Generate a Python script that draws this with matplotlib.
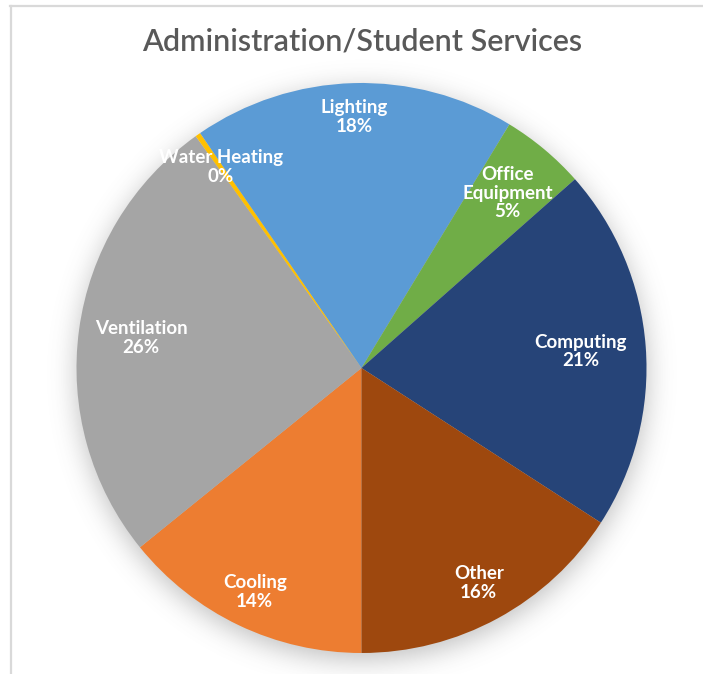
import math
import numpy as np
import matplotlib
matplotlib.use('Agg')
import matplotlib.pyplot as plt
from matplotlib.lines import Line2D

# Energy end-use breakdown, clockwise from the bottom of the pie
categories = ['Cooling', 'Ventilation', 'Water Heating', 'Lighting',
              'Office Equipment', 'Computing', 'Other']
shares = [14.2, 26.0, 0.3, 18.3, 4.8, 20.7, 15.9]
colors = ['#ED7D31', '#A5A5A5', '#FFC000', '#5B9BD5',
          '#70AD47', '#264478', '#9E480E']
label_text = ['Cooling', 'Ventilation', 'Water Heating', 'Lighting',
              'Office\nEquipment', 'Computing', 'Other']
# radial position of each label (fraction of radius)
label_r = [0.87, 0.78, 0.86, 0.88, 0.80, 0.77, 0.86]

W, H, DPI = 703, 674, 100
CX, CY, R = 361.5, 368.0, 285.0

plt.rcParams['font.family'] = ['Lato', 'DejaVu Sans']
fig = plt.figure(figsize=(W / DPI, H / DPI), dpi=DPI)
fig.patch.set_facecolor('white')

# soft drop shadow under the pie
bg = fig.add_axes([0, 0, 1, 1])
bg.set_axis_off()
yy, xx = np.mgrid[0:H, 0:W]
d = np.hypot(xx - CX, yy - (CY + 6)) - R
sigma = 13.0
erfc = np.vectorize(math.erfc)
alpha = 0.38 * 0.5 * erfc(d / (math.sqrt(2) * sigma))
shadow = np.zeros((H, W, 4))
shadow[..., :3] = 0.35
shadow[..., 3] = alpha
bg.imshow(shadow, extent=(0, W, H, 0), interpolation='bilinear')
bg.set_xlim(0, W)
bg.set_ylim(H, 0)

# chart frame (top and left edges visible)
fig.add_artist(Line2D([10 / W, 1], [1 - 5.5 / H, 1 - 5.5 / H],
                      color='#D9D9D9', lw=1.6, transform=fig.transFigure))
fig.add_artist(Line2D([10.5 / W, 10.5 / W], [0, 1 - 5.5 / H],
                      color='#D9D9D9', lw=1.6, transform=fig.transFigure))

ax = fig.add_axes([(CX - R) / W, (H - CY - R) / H, 2 * R / W, 2 * R / H])
ax.set_axis_off()
wedges, _ = ax.pie(shares, colors=colors, startangle=270, counterclock=False,
                   radius=1.0, wedgeprops=dict(linewidth=0))
ax.set_xlim(-1, 1)
ax.set_ylim(-1, 1)
ax.set_aspect('equal')

total = sum(shares)
for w, txt, val, r in zip(wedges, label_text, shares, label_r):
    mid = math.radians((w.theta1 + w.theta2) / 2)
    x, y = r * math.cos(mid), r * math.sin(mid)
    ax.text(x, y, f"{txt}\n{val / total * 100:.0f}%", ha='center', va='center',
            color='white', fontsize=13.5, fontweight='bold', linespacing=1.12)

fig.text(362.5 / W, 1 - 42 / H, 'Administration/Student Services', ha='center',
         va='center', fontsize=22, fontweight='semibold', color='#595959')

fig.savefig('out.png', dpi=DPI)
